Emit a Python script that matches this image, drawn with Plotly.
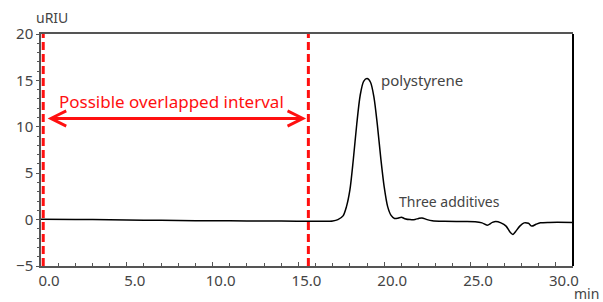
import plotly.graph_objects as go

# Chromatogram data (time in min, signal in uRIU)
time_min = [0.0, 2.0, 4.0, 6.0, 8.0, 10.0, 12.0, 14.0, 16.0, 16.5, 17.0, 17.3, 17.6, 17.8,
            18.0, 18.2, 18.4, 18.6, 18.8, 19.0, 19.2, 19.4, 19.6, 19.8, 20.0, 20.2,
            20.4, 20.6, 20.8, 21.0, 21.2, 21.5, 21.8, 22.0, 22.2, 22.5, 22.8, 23.5,
            24.5, 25.3, 25.7, 26.0, 26.3, 26.5, 26.8, 27.1, 27.35, 27.5, 27.65, 27.9,
            28.15, 28.4, 28.6, 28.85, 29.1, 29.6, 31.0]
signal = [0.05, 0.02, -0.02, -0.06, -0.1, -0.12, -0.14, -0.16, -0.18, -0.19, -0.15, 0.0, 0.4, 1.4,
          3.2, 6.5, 10.3, 13.4, 14.9, 15.2, 14.8, 13.2, 10.2, 6.6, 3.5, 1.4,
          0.45, 0.12, 0.15, 0.25, 0.1, 0.0, 0.02, 0.12, 0.18, 0.0, -0.12, -0.18,
          -0.2, -0.22, -0.35, -0.6, -0.3, -0.2, -0.35, -0.7, -1.4, -1.6, -1.3, -0.7,
          -0.35, -0.4, -0.7, -0.5, -0.35, -0.3, -0.3]

interval_start = 0.13
interval_end = 15.58
arrow_y = 10.9
arrow_left = 0.3
arrow_right = 15.45

x_range = [0, 31.0]
y_range = [-5, 20]
x_ticks = [0, 5, 10, 15, 20, 25, 30]
y_ticks = [-5, 0, 5, 10, 15, 20]

red = "#ff1010"
gray = "#444444"

fig = go.Figure()
fig.add_trace(go.Scatter(x=time_min, y=signal, mode="lines",
                         line=dict(color="black", width=1.5, shape="spline", smoothing=0.8),
                         hoverinfo="skip", showlegend=False))

# dashed interval lines
for xv in (interval_start, interval_end):
    fig.add_shape(type="line", xref="x", yref="paper", x0=xv, x1=xv, y0=0, y1=1,
                  line=dict(color=red, width=3, dash="8px,4px"), layer="above")

# right border (black)
fig.add_shape(type="line", xref="paper", yref="paper", x0=1, x1=1, y0=0, y1=1,
              line=dict(color="black", width=2))

# double arrow
fig.add_annotation(x=arrow_right, y=arrow_y, ax=arrow_left, ay=arrow_y,
                   xref="x", yref="y", axref="x", ayref="y", text="",
                   showarrow=True, arrowhead=5, startarrowhead=5, arrowside="end+start",
                   arrowwidth=3, arrowsize=1, startarrowsize=1, arrowcolor=red,
                   standoff=0, startstandoff=0)

fig.add_annotation(x=7.59, y=12.7, xref="x", yref="y", text="Possible overlapped interval",
                   showarrow=False, font=dict(family="Noto Sans", size=17, color=red))
fig.add_annotation(x=22.2, y=15.0, xref="x", yref="y", text="polystyrene",
                   showarrow=False, font=dict(family="Noto Sans", size=15, color=gray))
fig.add_annotation(x=23.78, y=1.9, xref="x", yref="y", text="Three additives",
                   showarrow=False, font=dict(family="Noto Sans", size=14, color=gray))
fig.add_annotation(x=52, y=17, xref="paper", yref="paper", text="uRIU",
                   showarrow=False, font=dict(family="Noto Sans", size=14, color=gray))
fig.add_annotation(x=586, y=296, xref="paper", yref="paper", text="min",
                   showarrow=False, font=dict(family="Noto Sans", size=14, color=gray))

# convert pixel-positioned labels to paper coords
W, H = 603, 302
ml, mr, mt, mb = 41, 30, 33.5, 33.5
pw, ph = W - ml - mr, H - mt - mb
anns = list(fig.layout.annotations)
for a in anns:
    if a.xref == "paper":
        a.x = (a.x - ml) / pw
        a.y = 1 - (a.y - mt) / ph
        a.xanchor = "center"
        a.yanchor = "middle"
fig.layout.annotations = anns

fig.update_layout(
    width=W, height=H,
    margin=dict(l=ml, r=mr, t=mt, b=mb),
    paper_bgcolor="white", plot_bgcolor="white",
    font=dict(family="Noto Sans", color=gray),
    xaxis=dict(range=x_range, tickvals=x_ticks, ticktext=[f"{v:.1f}" for v in x_ticks],
               showgrid=False, zeroline=False, showline=True, linecolor="#555555", linewidth=2,
               mirror=True, ticks="inside", ticklen=4, tickcolor="#555555",
               tickfont=dict(size=15, color=gray), ticklabelshift=8,
               minor=dict(dtick=1, ticks="inside", ticklen=3, tickcolor="#555555")),
    yaxis=dict(range=y_range, tickvals=y_ticks, showgrid=False, zeroline=False,
               showline=True, linecolor="#555555", linewidth=1.5,
               ticks="outside", ticklen=3, tickcolor="#555555",
               tickfont=dict(size=15, color=gray),
               minor=dict(dtick=1, ticks="outside", ticklen=2, tickcolor="#555555")),
)

fig.write_html("out.html", config={"displayModeBar": False},
               post_script="document.body.style.margin='0';document.body.style.overflow='hidden';")
